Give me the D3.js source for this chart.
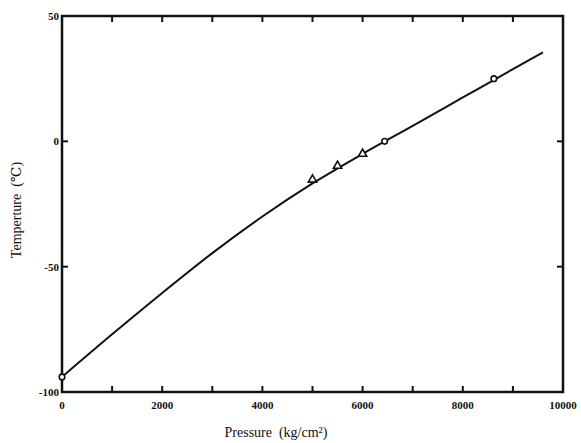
<!DOCTYPE html>
<html>
<head>
<meta charset="utf-8">
<script src="https://cdn.jsdelivr.net/npm/d3@7"></script>
<style>
  body { margin: 0; background: #fff; overflow: hidden; }
  #chart { width: 581px; height: 443px; }
  #chart svg { display: block; }
  text { font-family: "Liberation Serif", "DejaVu Serif", serif; fill: #111; }
</style>
</head>
<body>
<div id="chart"></div>
<script>
// fitted melting curve
const curvePressure = [0, 1000, 2000, 3000, 4000, 5000, 6000, 7000, 8000, 9000, 9600];
const curveTemp     = [-94, -77, -60.5, -44.6, -30, -16.8, -5, 6.2, 17.5, 28.8, 35.5];

// measured points
const circlePressure = [0, 6440, 8620];
const circleTemp     = [-94, 0, 25];
const trianglePressure = [5000, 5500, 6000];
const triangleTemp     = [-15.3, -9.8, -5];

const xTicks = [0, 2000, 4000, 6000, 8000, 10000];
const xMinorTicks = [1000, 3000, 5000, 7000, 9000];
const yTicks = [50, 0, -50, -100];

const width = 581, height = 443;
const margin = {top: 16, right: 18, bottom: 51, left: 62};
const innerWidth = width - margin.left - margin.right;
const innerHeight = height - margin.top - margin.bottom;

const svg = d3.select("#chart").append("svg")
  .attr("width", width)
  .attr("height", height);

const g = svg.append("g")
  .attr("transform", "translate(" + margin.left + "," + margin.top + ")");

const x = d3.scaleLinear().domain([0, 10000]).range([0, innerWidth]);
const y = d3.scaleLinear().domain([-100, 50]).range([innerHeight, 0]);

// frame
g.append("rect")
  .attr("width", innerWidth)
  .attr("height", innerHeight)
  .attr("fill", "none")
  .attr("stroke", "#111")
  .attr("stroke-width", 2.5);

// ticks, all pointing inward
const allX = xTicks.concat(xMinorTicks).filter(d => d > 0 && d < 10000);
g.selectAll(".xtick-b").data(allX).enter().append("line")
  .attr("x1", d => x(d)).attr("x2", d => x(d))
  .attr("y1", innerHeight).attr("y2", innerHeight - 6)
  .attr("stroke", "#111").attr("stroke-width", 2);
g.selectAll(".xtick-t").data(allX).enter().append("line")
  .attr("x1", d => x(d)).attr("x2", d => x(d))
  .attr("y1", 0).attr("y2", 6)
  .attr("stroke", "#111").attr("stroke-width", 2);
const innerY = yTicks.filter(d => d > -100 && d < 50);
g.selectAll(".ytick-l").data(innerY).enter().append("line")
  .attr("x1", 0).attr("x2", 6)
  .attr("y1", d => y(d)).attr("y2", d => y(d))
  .attr("stroke", "#111").attr("stroke-width", 2);
g.selectAll(".ytick-r").data(innerY).enter().append("line")
  .attr("x1", innerWidth).attr("x2", innerWidth - 6)
  .attr("y1", d => y(d)).attr("y2", d => y(d))
  .attr("stroke", "#111").attr("stroke-width", 2);

// tick labels
g.selectAll(".xlabel").data(xTicks).enter().append("text")
  .attr("x", d => x(d))
  .attr("y", innerHeight + 17)
  .attr("text-anchor", "middle")
  .attr("font-size", 11)
  .attr("font-weight", "bold")
  .text(d => d);
g.selectAll(".ylabel").data(yTicks).enter().append("text")
  .attr("x", -3)
  .attr("y", d => y(d) + 4)
  .attr("text-anchor", "end")
  .attr("font-size", 11)
  .attr("font-weight", "bold")
  .text(d => d);

// axis titles
svg.append("text")
  .attr("x", 276)
  .attr("y", 437)
  .attr("text-anchor", "middle")
  .attr("font-size", 14)
  .text("Pressure\u00a0\u00a0(kg/cm\u00b2)");
svg.append("text")
  .attr("transform", "translate(21,210) rotate(-90)")
  .attr("text-anchor", "middle")
  .attr("font-size", 14)
  .text("Temperture\u00a0\u00a0(\u2103)");

// curve
const curveData = curvePressure.map((p, i) => ({p: p, t: curveTemp[i]}));
const line = d3.line()
  .x(d => x(d.p))
  .y(d => y(d.t))
  .curve(d3.curveMonotoneX);
g.append("path")
  .datum(curveData)
  .attr("d", line)
  .attr("fill", "none")
  .attr("stroke", "#111")
  .attr("stroke-width", 2);

// markers
g.selectAll(".circ").data(circlePressure).enter().append("circle")
  .attr("cx", d => x(d))
  .attr("cy", (d, i) => y(circleTemp[i]))
  .attr("r", 2.8)
  .attr("fill", "#fff")
  .attr("stroke", "#111")
  .attr("stroke-width", 1.6);
g.selectAll(".tri").data(trianglePressure).enter().append("path")
  .attr("d", d3.symbol().type(d3.symbolTriangle).size(30))
  .attr("transform", (d, i) => "translate(" + x(d) + "," + y(triangleTemp[i]) + ")")
  .attr("fill", "#fff")
  .attr("stroke", "#111")
  .attr("stroke-width", 1.6);
</script>
</body>
</html>
